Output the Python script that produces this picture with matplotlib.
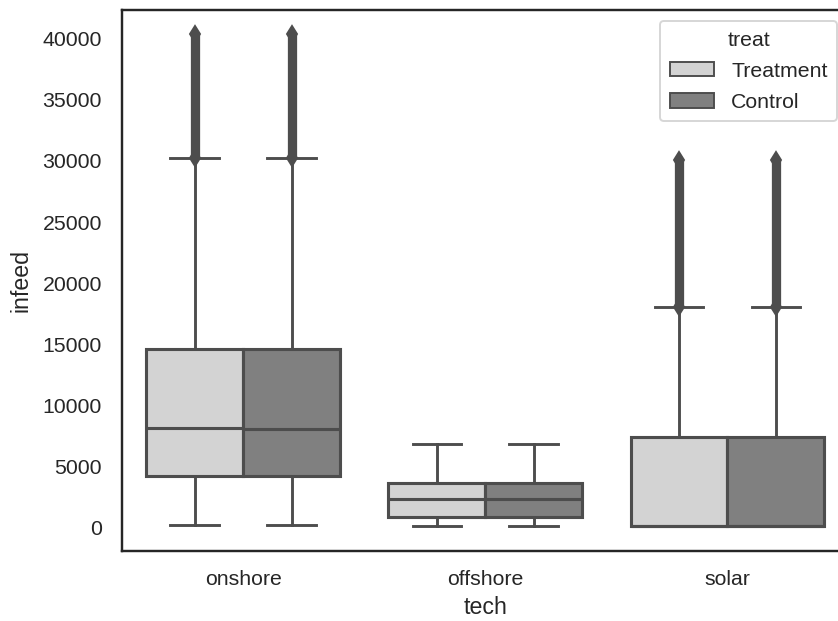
import matplotlib
matplotlib.use("Agg")
import matplotlib.pyplot as plt
from matplotlib.patches import Patch

# Box-plot summary of infeed by technology, split by treatment group
techs = ["onshore", "offshore", "solar"]
groups = ["Treatment", "Control"]
group_colors = ["lightgray", "gray"]
line_color = "#4d4d4d"

# per tech: [Treatment, Control]
whislo = [[150, 150], [50, 50], [50, 50]]
q1 = [[4170, 4170], [840, 840], [60, 60]]
median = [[8070, 7990], [2265, 2265], [70, 70]]
q3 = [[14600, 14560], [3600, 3600], [7330, 7330]]
whishi = [[30180, 30180], [6790, 6790], [17970, 17970]]
# outlier span (lowest, highest) per box; None where there are no outliers
flier_span = [[(30250, 40400), (30250, 40400)],
              [None, None],
              [(18030, 30050), (18030, 30050)]]

DPI = 139
fig = plt.figure(figsize=(838.4 / DPI, 621.4 / DPI), dpi=DPI)
plt.rcParams["font.family"] = ["Liberation Sans", "DejaVu Sans"]
W, H = 838, 621
ax = fig.add_axes([122 / W, (H - 551) / H, (848 - 122) / W, 541 / H])

width = 0.4
offsets = [-0.2, 0.2]
for g, (off, col) in enumerate(zip(offsets, group_colors)):
    stats = []
    positions = []
    for t in range(len(techs)):
        stats.append(dict(med=median[t][g], q1=q1[t][g], q3=q3[t][g],
                          whislo=whislo[t][g], whishi=whishi[t][g], fliers=[]))
        positions.append(t + off)
    ax.bxp(stats, positions=positions, widths=width, patch_artist=True,
           showfliers=False, manage_ticks=False,
           boxprops=dict(facecolor=col, edgecolor=line_color, linewidth=1.6),
           medianprops=dict(color=line_color, linewidth=1.6),
           whiskerprops=dict(color=line_color, linewidth=1.5),
           capprops=dict(color=line_color, linewidth=1.5))
    for t in range(len(techs)):
        span = flier_span[t][g]
        if span is None:
            continue
        x = t + off
        ax.vlines(x, span[0], span[1], color=line_color, linewidth=4.8, zorder=3)
        ax.plot([x, x], list(span), linestyle="none", marker="d", markersize=6,
                color=line_color, markeredgecolor=line_color, zorder=3)

ax.set_xlim(-0.5, 2.5)
ax.set_ylim(-1966, 42360)
ax.set_xticks(range(len(techs)))
ax.set_xticklabels(techs)
ax.set_yticks(range(0, 40001, 5000))
ax.tick_params(axis="both", length=0, labelsize=11, colors="#262626")
ax.tick_params(axis="y", pad=10.5)
ax.tick_params(axis="x", pad=9.5)
ax.set_xlabel("tech", fontsize=12, color="#262626", labelpad=4)
ax.set_ylabel("infeed", fontsize=12, color="#262626", labelpad=5)
for s in ax.spines.values():
    s.set_color("#262626")
    s.set_linewidth(1.25)

handles = [Patch(facecolor=c, edgecolor=line_color, linewidth=1.0) for c in group_colors]
leg = ax.legend(handles, groups, title="treat", loc="upper right",
                fontsize=11, title_fontsize=11, frameon=True, fancybox=True,
                borderaxespad=0, borderpad=0.45, labelspacing=0.58,
                handlelength=2.1)
leg.set_bbox_to_anchor((837 / W, (H - 21) / H), transform=fig.transFigure)
leg.get_frame().set_edgecolor("#cccccc")
leg.get_frame().set_linewidth(1.0)
for txt in leg.get_texts():
    txt.set_color("#262626")
leg.get_title().set_color("#262626")

fig.savefig("out.png", dpi=DPI)
